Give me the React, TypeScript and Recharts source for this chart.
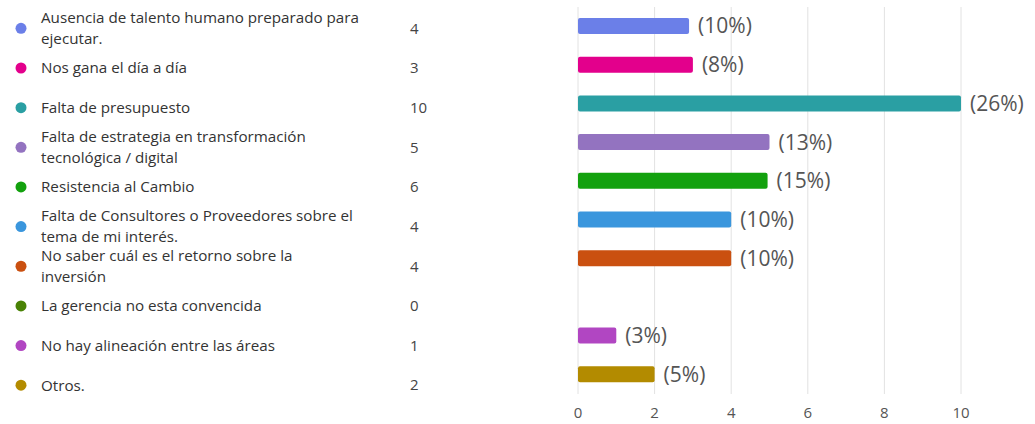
import { BarChart, Bar, XAxis, YAxis, CartesianGrid, Cell, LabelList } from 'recharts';

const categories = [
  'Ausencia de talento humano preparado para|ejecutar.',
  'Nos gana el día a día',
  'Falta de presupuesto',
  'Falta de estrategia en transformación|tecnológica / digital',
  'Resistencia al Cambio',
  'Falta de Consultores o Proveedores sobre el|tema de mi interés.',
  'No saber cuál es el retorno sobre la|inversión',
  'La gerencia no esta convencida',
  'No hay alineación entre las áreas',
  'Otros.',
];
// counts as printed in the legend column
const counts = [4, 3, 10, 5, 6, 4, 4, 0, 1, 2];
// bar lengths as drawn in the picture
const barValues = [2.9, 3, 10, 5, 4.95, 4, 4, 0, 1, 2];
const percents = ['(10%)', '(8%)', '(26%)', '(13%)', '(15%)', '(10%)', '(10%)', '', '(3%)', '(5%)'];
const colors = ['#6b7fe8', '#e3008c', '#2a9fa3', '#9373c0', '#13a10e', '#3a96dd', '#ca5010', '#498205', '#b146c2', '#b38b00'];
const xTicks = [0, 2, 4, 6, 8, 10];

const data = categories.map((name, i) => ({ name, value: barValues[i], pct: percents[i] }));

const FONT = '"Open Sans", sans-serif';

const LegendTick = ({ y, payload }: any) => {
  const i = categories.indexOf(payload.value);
  const lines = String(payload.value).split('|');
  const lh = 21;
  const cy = y + 2 + i * 0.95;
  const top = cy - ((lines.length - 1) * lh) / 2;
  return (
    <g>
      <circle cx={21} cy={cy} r={5.5} fill={colors[i]} />
      {lines.map((l, k) => (
        <text key={k} x={41} y={top + k * lh} dy="0.35em" fontSize={15.2} fill="#333" fontFamily={FONT}>
          {l}
        </text>
      ))}
      <text x={410} y={cy} dy="0.35em" fontSize={15} fill="#444" fontFamily={FONT}>
        {counts[i]}
      </text>
    </g>
  );
};

export default function App() {
  return (
    <div style={{ position: 'fixed', left: 0, top: 0, width: 1035, height: 424, background: '#fff' }}>
      <BarChart
        width={1035}
        height={424}
        data={data}
        layout="vertical"
        margin={{ top: 7, right: 74, bottom: 0, left: 0 }}
      >
        <CartesianGrid horizontal={false} stroke="#e2e2e2" />
        <XAxis
          type="number"
          domain={[0, 10]}
          ticks={xTicks}
          axisLine={false}
          tickLine={false}
          height={30}
          tickMargin={7}
          tick={{ fontSize: 15, fill: '#555', fontFamily: FONT }}
        />
        <YAxis
          type="category"
          dataKey="name"
          width={578}
          axisLine={false}
          tickLine={false}
          tick={<LegendTick />}
          interval={0}
        />
        <Bar dataKey="value" isAnimationActive={false} radius={2} barSize={16}>
          {data.map((d, i) => (
            <Cell key={i} fill={colors[i]} />
          ))}
          <LabelList
            dataKey="pct"
            position="right"
            offset={9}
            style={{ fontSize: 21, fill: '#555', fontFamily: FONT }}
          />
        </Bar>
      </BarChart>
    </div>
  );
}
